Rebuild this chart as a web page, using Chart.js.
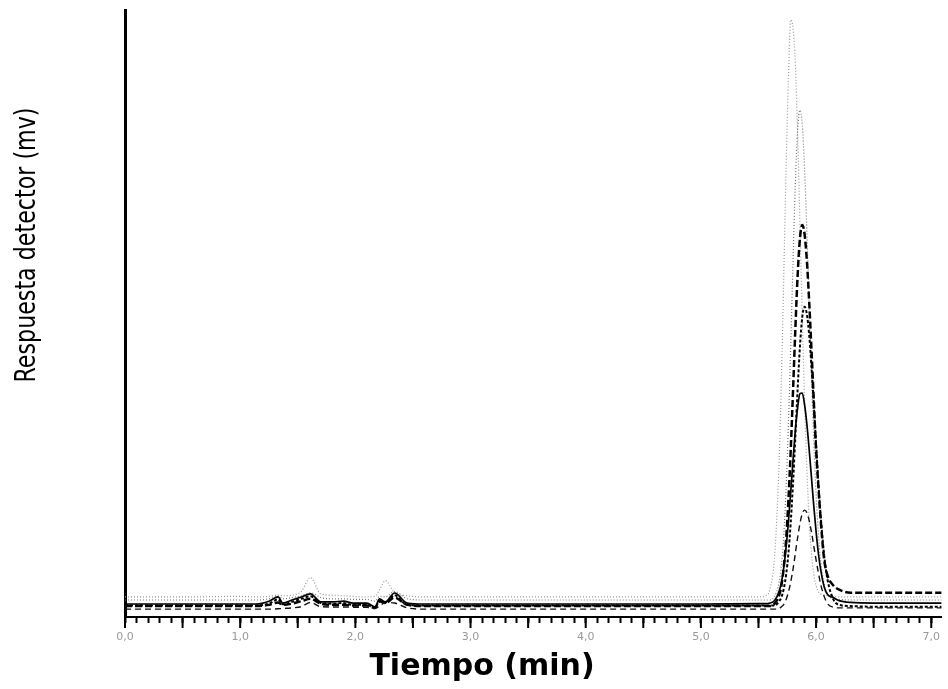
<!DOCTYPE html>
<html>
<head>
<meta charset="utf-8">
<script src="https://cdn.jsdelivr.net/npm/chart.js@4/dist/chart.umd.min.js"></script>
<style>
  html, body { margin: 0; padding: 0; background: #fff; }
  #wrap { width: 948px; height: 689px; }
</style>
</head>
<body>
<div id="wrap"><canvas id="crom" width="948" height="689"></canvas></div>
<script>
// tiempo (min), shared by every trace
const tiempo = [0, 0.5, 1.0, 1.14, 1.25, 1.33, 1.37, 1.45, 1.53, 1.61, 1.70, 1.80, 1.90, 1.98, 2.10, 2.17, 2.21, 2.26, 2.34, 2.45, 2.6, 3.0, 4.0, 5.0, 5.5,
  5.56, 5.6, 5.64, 5.68, 5.70, 5.72, 5.74, 5.76, 5.78, 5.80, 5.82, 5.84, 5.86, 5.88, 5.90, 5.92, 5.94, 5.96, 5.98, 6.00, 6.02, 6.04, 6.07, 6.10, 6.15, 6.2, 6.3, 6.5, 7.09];

// detector response (mv), one array per injection
const trazaA = [3.3, 3.3, 3.4, 3.3, 3.4, 3.6, 3.5, 3.6, 4.2, 6.5, 3.8, 3.6, 3.5, 3.4, 3.3, 3.4, 4.5, 6.0, 4.0, 3.5, 3.3, 3.3, 3.3, 3.3, 3.3,
  3.5, 4.6, 10.0, 26.1, 39.9, 56.6, 74.1, 88.8, 98.4, 97.0, 91.1, 79.4, 64.8, 49.6, 35.6, 24.5, 16.1, 10.5, 7.1, 5.2, 4.2, 3.8, 3.6, 3.5, 3.4, 3.3, 3.3, 3.3, 3.3];
const trazaB = [2.8, 2.8, 2.8, 2.8, 3.0, 3.4, 3.0, 3.2, 3.5, 4.0, 3.2, 3.0, 3.0, 2.9, 2.9, 2.6, 3.4, 3.3, 4.2, 3.0, 2.8, 2.8, 2.8, 2.8, 2.8,
  2.8, 2.8, 3.4, 5.8, 8.7, 13.7, 21.4, 31.9, 44.8, 58.5, 71.4, 80.3, 83.5, 81.1, 74.0, 63.7, 51.8, 39.8, 29.0, 20.2, 13.7, 9.3, 5.4, 3.7, 3.0, 2.9, 2.8, 2.8, 2.8];
const trazaC = [1.8, 1.8, 1.8, 1.8, 2.0, 2.4, 2.0, 2.2, 2.6, 3.0, 2.2, 2.0, 2.0, 1.9, 1.9, 1.5, 2.6, 2.3, 3.2, 2.0, 1.8, 1.8, 1.8, 1.8, 1.8,
  1.8, 1.8, 2.2, 3.6, 5.3, 8.3, 12.8, 19.3, 27.5, 37.3, 47.4, 56.3, 62.4, 64.6, 63.1, 58.7, 52.0, 44.1, 35.7, 27.6, 21.5, 16.0, 9.5, 6.8, 5.2, 4.5, 4.0, 4.0, 4.0];
const trazaD = [1.9, 1.9, 1.9, 1.9, 2.2, 2.9, 2.1, 2.5, 3.0, 3.4, 2.3, 2.2, 2.3, 2.0, 2.0, 1.5, 2.7, 2.3, 3.6, 2.0, 1.9, 1.9, 1.9, 1.9, 1.9,
  1.9, 1.9, 1.9, 2.6, 3.3, 4.7, 7.0, 10.5, 15.6, 22.1, 29.7, 37.6, 44.6, 49.4, 51.1, 49.9, 46.5, 41.3, 35.1, 28.5, 22.1, 16.6, 10.2, 6.1, 2.9, 2.0, 1.8, 1.7, 1.7];
const trazaE = [2.14, 2.14, 2.14, 2.14, 2.6, 3.3, 2.3, 2.8, 3.3, 3.8, 2.5, 2.5, 2.6, 2.3, 2.3, 1.65, 2.97, 2.5, 3.95, 2.3, 2.14, 2.14, 2.14, 2.14, 2.2,
  2.2, 2.3, 2.7, 4.3, 5.8, 8.2, 11.5, 15.7, 20.6, 25.9, 30.8, 34.5, 36.8, 36.9, 35.0, 31.8, 27.6, 23.0, 18.3, 14.1, 10.5, 7.8, 5.0, 3.7, 3.2, 2.7, 2.4, 2.3, 2.3];
const trazaF = [1.3, 1.3, 1.3, 1.3, 1.3, 1.35, 1.4, 1.5, 1.7, 2.4, 1.7, 1.65, 1.65, 1.6, 1.6, 1.4, 1.8, 2.4, 2.3, 1.5, 1.3, 1.3, 1.3, 1.3, 1.3,
  1.3, 1.3, 1.3, 1.4, 1.7, 2.1, 2.9, 4.1, 5.8, 7.9, 10.5, 13.1, 15.4, 17.0, 17.6, 17.2, 15.9, 14.0, 11.7, 9.4, 7.3, 5.4, 3.4, 2.2, 1.6, 1.5, 1.5, 1.5, 1.5];

const tickLabels = ['0,0', '1,0', '2,0', '3,0', '4,0', '5,0', '6,0', '7,0'];

function puntos(ys) {
  return tiempo.map((t, i) => ({ x: t, y: ys[i] }));
}

function traza(ys, color, width, dash) {
  return {
    data: puntos(ys),
    borderColor: color,
    borderWidth: width,
    borderDash: dash,
    pointRadius: 0,
    fill: false,
    cubicInterpolationMode: 'monotone'
  };
}

// axis titles at the spots they sit in the original, plus longer ticks every 0.5 min
const extras = {
  id: 'extras',
  afterDraw(chart) {
    const ctx = chart.ctx;
    const xs = chart.scales.x;
    const y0 = chart.chartArea.bottom;
    ctx.save();
    ctx.strokeStyle = '#000';
    ctx.lineWidth = 2;
    for (let v = 0; v <= 7; v += 0.5) {
      const px = xs.getPixelForValue(v);
      ctx.beginPath();
      ctx.moveTo(px, y0);
      ctx.lineTo(px, y0 + 11);
      ctx.stroke();
    }
    ctx.fillStyle = '#000';
    ctx.textAlign = 'center';
    ctx.textBaseline = 'middle';
    ctx.font = 'bold 30px "DejaVu Sans"';
    ctx.fillText('Tiempo (min)', 482, 667);
    ctx.translate(27, 245);
    ctx.rotate(-Math.PI / 2);
    ctx.scale(0.85, 1);
    ctx.font = '29px "DejaVu Sans Condensed", sans-serif';
    ctx.fillText('Respuesta detector (mv)', 0, 0);
    ctx.restore();
  }
};

new Chart(document.getElementById('crom'), {
  type: 'line',
  data: {
    datasets: [
      traza(trazaE, '#000', 1.7, []),
      traza(trazaF, '#111', 1.4, [6, 4]),
      traza(trazaD, '#000', 2, [3, 2]),
      traza(trazaC, '#000', 2.5, [7, 3]),
      traza(trazaB, '#777', 1.2, [1, 2]),
      traza(trazaA, '#999', 1.2, [1, 2])
    ]
  },
  options: {
    responsive: false,
    animation: false,
    layout: { padding: { top: 10, right: 0, left: 0, bottom: 0 } },
    plugins: {
      legend: { display: false },
      tooltip: { enabled: false }
    },
    scales: {
      x: {
        type: 'linear',
        min: 0,
        max: 7.09,
        afterFit: function(scale) { scale.height = 72; },
        border: { display: true, color: '#000', width: 2 },
        grid: {
          drawOnChartArea: false,
          drawTicks: true,
          tickLength: 6,
          tickColor: '#000',
          tickWidth: 2
        },
        ticks: {
          stepSize: 0.1,
          includeBounds: false,
          autoSkip: false,
          maxRotation: 0,
          padding: 8,
          color: '#999',
          font: { family: 'DejaVu Sans', size: 11 },
          callback: function(value) {
            const r = Math.round(value);
            return Math.abs(value - r) < 1e-6 ? tickLabels[r] : '';
          }
        }
      },
      y: {
        min: 0,
        max: 100,
        afterFit: function(scale) { scale.width = 125; },
        border: { display: true, color: '#000', width: 3 },
        grid: { display: false },
        ticks: { display: false }
      }
    }
  },
  plugins: [extras]
});
</script>
</body>
</html>
